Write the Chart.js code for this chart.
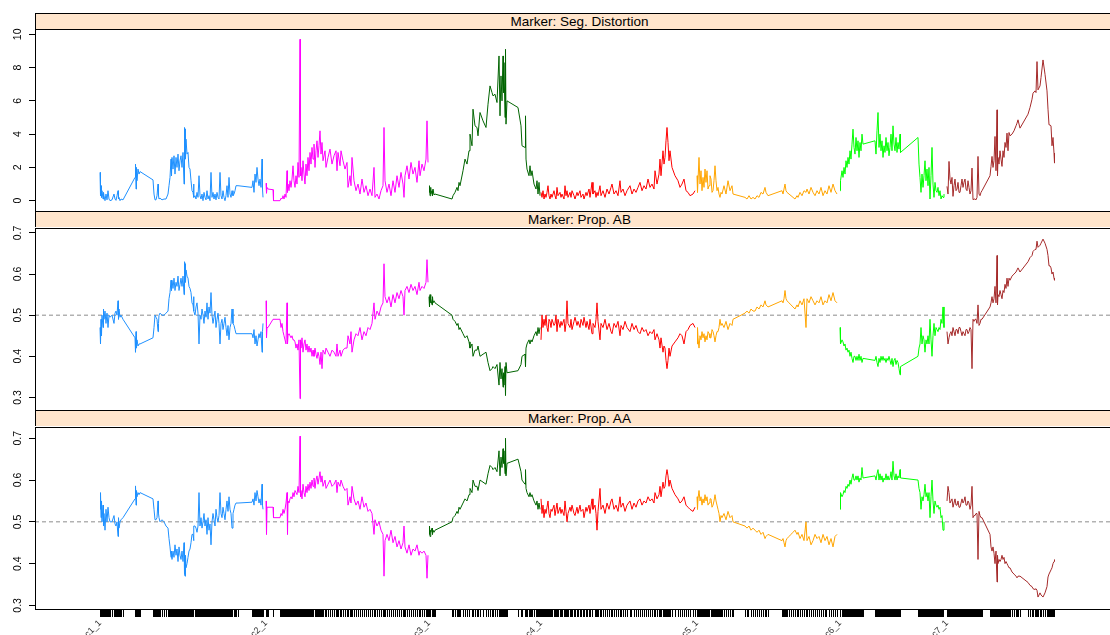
<!DOCTYPE html>
<html>
<head>
<meta charset="utf-8">
<script src="https://cdn.jsdelivr.net/npm/chart.js@4.4.1/dist/chart.umd.min.js"></script>
<style>
  html, body { margin: 0; padding: 0; background: #fff; overflow: hidden; }
  #wrap { position: relative; width: 1110px; height: 635px; overflow: hidden; }
  .strip {
    position: absolute; left: 35px; width: 1087px; height: 15px;
    background: #ffe5cc; border-top: 1px solid #000; border-left: 1px solid #000;
    font: 13.5px "Liberation Sans", Arial, sans-serif; color: #000;
    text-align: center; line-height: 15px; white-space: nowrap;
  }
  canvas { position: absolute; left: 0; }
</style>
</head>
<body>
<div id="wrap">
  <div class="strip" style="top:13px">Marker: Seg. Distortion</div>
  <div class="strip" style="top:211px">Marker: Prop. AB</div>
  <div class="strip" style="top:410px">Marker: Prop. AA</div>
  <canvas id="p1" width="1122" height="203" style="top:19px"></canvas>
  <canvas id="p2" width="1122" height="203" style="top:218px"></canvas>
  <canvas id="p3" width="1122" height="238" style="top:417px"></canvas>
</div>
<script>
// Cumulative map positions of the markers on each linkage group,
// followed by the three per-marker statistics (segregation distortion,
// proportion of AB genotypes, proportion of AA genotypes).

const pos1 = [100,100.5,101,101.5,102,103,103.5,104,105,106,
  107,108,109,110,112,114,115,116,117,118,
  118.5,119,120,121,123,135,135.5,136,136.5,137,
  138,139,140,153,154,155,156,157,158,158.5,
  159,160,162,164,166,168,169,170,171,171.5,
  172,173,174,175,176,177,178,179,180,181,
  182,183,184,184.5,185,185.5,186,187,188,189,
  190,191,192,193,193.5,194,195,196,197,198,
  199,200,201,202,203,204,205,206,207,208,
  209,210,211,212,213,214,215,216,217,218,
  219,220,221,222,223,224,225,226,227,228,
  229,230,231,232,233,234,235,236,238,252,
  253,254,255,256,257,258,259,260,261,262,
  262.5,263];
const seg1 = [1.7,0.3,0.9,0.2,0.6,0.1,0.5,0.3,0.0,0.4,
  0.05,0.6,0.1,0.0,0.05,0.4,0.1,0.02,0.3,0.6,
  0.1,0.2,0.0,0.1,0.05,1.4,2.2,0.7,2.0,1.2,
  1.9,1.6,1.75,1.25,0.4,0.05,0.05,0.3,1.0,0.3,
  0.1,0.15,0.05,0.1,0.1,0.4,0.9,1.4,2.5,1.5,
  2.6,1.9,2.7,1.6,2.6,2.0,2.8,1.8,2.4,2.7,
  2.0,2.9,1.0,4.4,4.3,2.5,3.7,2.8,2.9,2.0,
  1.9,1.2,0.6,0.5,1.0,0.2,0.3,0.1,0.5,0.2,
  1.5,0.3,0.1,0.4,0.0,0.5,0.2,0.05,0.6,0.1,
  0.3,0.0,1.7,0.2,0.5,0.1,0.4,0.05,0.5,0.2,
  0.1,1.7,0.3,0.1,0.6,0.2,0.0,0.3,0.9,0.2,
  1.4,0.4,0.2,0.6,0.3,0.4,0.6,0.9,0.9,0.8,
  1.2,0.5,1.6,1.1,2.0,1.3,0.9,1.3,0.8,2.5,
  0.7,0.2];
const ab1 = [0.47,0.43,0.49,0.45,0.50,0.47,0.515,0.49,0.51,0.48,
  0.505,0.47,0.50,0.495,0.50,0.48,0.505,0.51,0.50,0.535,
  0.49,0.515,0.495,0.50,0.49,0.445,0.41,0.46,0.42,0.44,
  0.425,0.43,0.43,0.445,0.47,0.50,0.495,0.49,0.46,0.48,
  0.50,0.505,0.50,0.50,0.505,0.51,0.54,0.555,0.585,0.56,
  0.585,0.565,0.59,0.56,0.58,0.57,0.595,0.56,0.575,0.59,
  0.57,0.595,0.55,0.63,0.625,0.58,0.61,0.595,0.59,0.57,
  0.565,0.555,0.53,0.525,0.545,0.51,0.50,0.52,0.53,0.505,
  0.43,0.50,0.49,0.515,0.50,0.48,0.51,0.495,0.53,0.49,
  0.52,0.505,0.555,0.50,0.48,0.495,0.51,0.47,0.49,0.505,
  0.48,0.43,0.48,0.49,0.465,0.48,0.495,0.47,0.45,0.475,
  0.44,0.47,0.48,0.515,0.48,0.475,0.465,0.455,0.455,0.455,
  0.445,0.465,0.43,0.45,0.425,0.44,0.455,0.445,0.46,0.41,
  0.46,0.48];
const aa1 = [0.53,0.57,0.51,0.55,0.50,0.54,0.49,0.52,0.48,0.53,
  0.50,0.535,0.51,0.50,0.50,0.515,0.495,0.49,0.50,0.465,
  0.51,0.485,0.50,0.505,0.51,0.555,0.586,0.54,0.575,0.56,
  0.57,0.565,0.57,0.555,0.53,0.505,0.505,0.51,0.55,0.52,
  0.51,0.50,0.505,0.50,0.49,0.485,0.46,0.44,0.415,0.43,
  0.41,0.43,0.415,0.445,0.42,0.435,0.405,0.44,0.42,0.41,
  0.43,0.405,0.45,0.375,0.37,0.42,0.39,0.40,0.415,0.43,
  0.435,0.45,0.47,0.47,0.455,0.49,0.49,0.485,0.475,0.49,
  0.57,0.49,0.51,0.485,0.50,0.52,0.49,0.505,0.47,0.51,
  0.48,0.495,0.445,0.50,0.52,0.505,0.49,0.53,0.51,0.50,
  0.515,0.57,0.52,0.51,0.535,0.52,0.505,0.53,0.55,0.525,
  0.56,0.53,0.52,0.485,0.52,0.53,0.54,0.545,0.545,0.547,
  0.555,0.54,0.57,0.55,0.575,0.56,0.545,0.555,0.54,0.59,
  0.54,0.53];

const pos2 = [266,266.5,267,268,273,273.5,280,281,282,283,
  284,285,286,287,287.5,288,289,290,291,292,
  293,294,295,296,297,298,299,300,300.5,301,
  302,303,304,305,306,307,308,309,310,311,
  312,313,314,315,316,317,318,319,320,321,
  322,323,325,326,328,330,332,334,336,337,
  338,340,341,343,345,347,348,350,351,352,
  354,356,358,360,362,364,366,368,370,372,
  374,375,377,379,381,383,384,385,387,389,
  391,393,395,397,399,401,403,404,405,407,
  409,411,413,415,417,419,420,422,424,426,
  427,428];
const seg2 = [1.05,0.45,0.8,0.7,0.66,0.0,0.0,0.15,0.1,0.3,
  0.1,0.4,0.2,1.8,0.5,1.0,0.6,1.2,0.8,1.3,
  2.1,1.2,0.8,1.5,1.0,2.3,1.4,9.7,1.5,2.0,
  1.2,2.4,1.6,1.0,2.2,1.5,2.6,1.8,2.9,2.2,
  3.2,2.5,3.4,2.0,3.0,3.6,2.6,3.3,4.2,2.8,
  3.5,2.4,3.0,2.0,2.6,3.1,2.2,2.7,3.0,1.8,
  2.9,2.1,3.0,2.4,1.9,2.3,0.8,1.5,0.9,2.6,
  1.2,0.6,1.0,0.4,1.3,0.5,0.9,0.3,0.7,0.3,
  2.0,0.2,0.4,0.1,0.6,0.9,4.4,1.2,0.5,1.0,
  0.3,1.2,0.5,1.5,0.8,1.7,1.0,0.2,1.5,2.1,
  1.3,2.3,1.6,2.0,1.1,2.4,1.5,2.2,1.8,2.5,
  4.8,2.3];
const ab2 = [0.535,0.445,0.47,0.47,0.49,0.49,0.49,0.47,0.48,0.46,
  0.45,0.44,0.43,0.53,0.43,0.45,0.455,0.45,0.445,0.45,
  0.44,0.44,0.435,0.42,0.43,0.415,0.44,0.297,0.44,0.42,
  0.445,0.41,0.43,0.44,0.415,0.43,0.41,0.425,0.41,0.42,
  0.40,0.415,0.40,0.42,0.405,0.395,0.41,0.40,0.38,0.41,
  0.37,0.415,0.405,0.42,0.41,0.40,0.415,0.41,0.40,0.43,
  0.40,0.415,0.40,0.415,0.42,0.42,0.45,0.43,0.46,0.41,
  0.44,0.455,0.45,0.47,0.44,0.46,0.45,0.47,0.465,0.48,
  0.53,0.49,0.51,0.50,0.52,0.53,0.625,0.545,0.53,0.545,
  0.52,0.55,0.53,0.555,0.54,0.56,0.545,0.50,0.56,0.57,
  0.555,0.575,0.56,0.57,0.55,0.58,0.56,0.57,0.565,0.58,
  0.635,0.58];
const aa2 = [0.55,0.47,0.535,0.535,0.535,0.51,0.51,0.52,0.515,0.53,
  0.52,0.53,0.545,0.57,0.47,0.55,0.545,0.555,0.56,0.555,
  0.57,0.56,0.575,0.57,0.565,0.585,0.57,0.705,0.56,0.575,
  0.555,0.59,0.57,0.56,0.585,0.57,0.59,0.575,0.595,0.58,
  0.60,0.585,0.605,0.58,0.60,0.61,0.59,0.605,0.62,0.595,
  0.61,0.585,0.60,0.58,0.59,0.60,0.585,0.59,0.60,0.57,
  0.595,0.585,0.60,0.585,0.575,0.58,0.54,0.56,0.545,0.585,
  0.555,0.54,0.55,0.53,0.56,0.535,0.545,0.525,0.53,0.52,
  0.47,0.505,0.49,0.50,0.48,0.47,0.37,0.455,0.47,0.455,
  0.48,0.45,0.465,0.44,0.455,0.435,0.45,0.49,0.44,0.425,
  0.445,0.42,0.435,0.43,0.445,0.42,0.43,0.425,0.43,0.42,
  0.365,0.42];

const pos3 = [429,429.5,430,430.5,431,432,432.5,433,434,435,
  452,453,455,457,458,459,460,463,465,467,
  469,470,472,473,475,477,478,480,483,486,
  488,490,492,493,495,497,499,500,501,502,
  503,503.5,504,505,505.5,506,507,518,521,522,
  525,525.5,526,527,529,530,531,532,534,536,
  537,538,539,540];
const seg3 = [0.5,0.9,0.3,0.8,0.4,0.6,0.3,0.7,0.35,0.4,
  0.1,0.3,0.5,0.8,0.6,1.1,0.9,1.8,2.5,2.2,
  3.0,4.0,3.3,5.5,4.5,4.4,3.9,5.3,4.8,4.4,
  5.8,6.9,6.5,6.3,6.4,5.9,8.7,5.1,7.5,6.0,
  8.7,6.5,8.3,5.0,9.1,4.6,6.0,5.6,4.5,3.3,
  3.2,5.1,2.5,1.9,1.5,2.1,1.5,1.8,1.0,0.7,
  1.2,0.4,1.1,0.3];
const ab3 = [0.545,0.52,0.55,0.53,0.54,0.525,0.545,0.53,0.535,0.53,
  0.50,0.49,0.485,0.475,0.48,0.465,0.47,0.455,0.445,0.45,
  0.435,0.42,0.43,0.40,0.415,0.415,0.425,0.40,0.405,0.41,
  0.385,0.365,0.37,0.375,0.37,0.38,0.33,0.385,0.345,0.37,
  0.325,0.36,0.33,0.375,0.305,0.385,0.36,0.365,0.38,0.40,
  0.405,0.375,0.42,0.43,0.44,0.43,0.44,0.435,0.45,0.46,
  0.45,0.47,0.455,0.47];
const aa3 = [0.47,0.49,0.465,0.48,0.475,0.485,0.47,0.48,0.475,0.48,
  0.50,0.51,0.515,0.525,0.52,0.535,0.53,0.545,0.555,0.55,
  0.565,0.58,0.57,0.60,0.585,0.585,0.575,0.60,0.595,0.59,
  0.615,0.635,0.63,0.625,0.63,0.62,0.67,0.61,0.655,0.63,
  0.675,0.64,0.67,0.615,0.70,0.61,0.64,0.65,0.62,0.60,
  0.59,0.625,0.58,0.57,0.56,0.57,0.56,0.565,0.55,0.54,
  0.55,0.53,0.545,0.53];

const pos4 = [541,542,543,544,545,546,547,548,549,550,
  551,552,554,555,556,557,558,560,561,562,
  564,565,566,567,568,570,571,572,574,575,
  577,578,580,581,583,584,586,587,589,590,
  592,593,595,596,597,598,600,601,603,605,
  607,609,611,612,614,616,618,620,621,623,
  625,627,630,632,634,636,638,640,642,644,
  646,648,650,652,654,655,657,659,660,661,
  663,664,665,666,667,668,669,670,672,675,
  678,680,682,684,686,688,690,693,695];
const seg4 = [0.5,0.2,0.6,0.1,0.4,0.2,0.5,0.9,0.3,0.1,
  0.4,0.2,0.6,0.3,0.1,0.8,0.3,0.5,0.2,0.4,
  0.1,0.9,0.3,0.6,0.2,0.5,0.2,0.6,0.3,0.1,
  0.5,0.3,0.6,0.2,0.4,0.1,0.5,0.3,0.7,0.2,
  1.1,0.4,0.6,0.2,0.5,0.3,0.9,0.3,0.6,0.2,
  0.7,0.4,0.8,1.0,0.4,0.6,0.3,1.2,0.5,0.7,
  0.3,0.6,0.9,0.4,0.7,0.5,0.8,1.1,0.6,0.9,
  0.7,1.3,0.8,1.0,0.7,1.8,1.0,1.6,2.5,1.5,
  3.0,2.2,2.6,3.6,4.4,3.5,2.4,3.0,2.0,1.5,
  1.2,0.8,1.0,1.3,0.6,0.5,0.3,0.4,0.6];
const ab4 = [0.44,0.50,0.47,0.49,0.475,0.50,0.47,0.46,0.49,0.485,
  0.47,0.49,0.475,0.48,0.50,0.46,0.49,0.47,0.485,0.475,
  0.49,0.46,0.48,0.535,0.48,0.47,0.49,0.465,0.485,0.495,
  0.475,0.485,0.47,0.49,0.475,0.495,0.47,0.485,0.465,0.49,
  0.455,0.48,0.47,0.49,0.53,0.485,0.44,0.48,0.47,0.49,
  0.465,0.48,0.46,0.455,0.48,0.47,0.485,0.45,0.475,0.465,
  0.485,0.47,0.46,0.48,0.465,0.475,0.46,0.455,0.47,0.46,
  0.465,0.45,0.46,0.455,0.465,0.44,0.455,0.44,0.42,0.445,
  0.41,0.425,0.42,0.39,0.37,0.39,0.42,0.40,0.425,0.435,
  0.445,0.455,0.45,0.43,0.46,0.465,0.475,0.48,0.47];
const aa4 = [0.555,0.52,0.54,0.51,0.53,0.52,0.535,0.55,0.52,0.51,
  0.53,0.525,0.54,0.515,0.53,0.545,0.52,0.535,0.52,0.53,
  0.515,0.55,0.525,0.50,0.52,0.535,0.525,0.54,0.52,0.515,
  0.535,0.52,0.54,0.525,0.53,0.51,0.535,0.525,0.54,0.52,
  0.555,0.53,0.54,0.52,0.48,0.525,0.58,0.53,0.54,0.52,
  0.545,0.53,0.55,0.555,0.53,0.54,0.525,0.56,0.535,0.545,
  0.525,0.54,0.55,0.53,0.545,0.535,0.55,0.555,0.54,0.55,
  0.545,0.56,0.55,0.555,0.545,0.57,0.555,0.565,0.585,0.56,
  0.595,0.58,0.585,0.61,0.625,0.61,0.585,0.60,0.58,0.565,
  0.555,0.545,0.55,0.56,0.54,0.535,0.53,0.525,0.535];

const pos5 = [697,697.5,698,699,700,701,702,703,704,705,
  706,707,708,709,710,711,712,713,714,715,
  716,717,718,719,720,721,722,724,726,728,
  730,732,733,745,747,749,751,753,755,757,
  759,761,763,765,766,768,782,783,784,785,
  786,787,789,791,793,795,797,798,800,802,
  804,806,807,809,811,813,815,817,819,821,
  823,825,827,829,831,833,835,837];
const seg5 = [1.5,0.5,1.2,2.6,1.0,1.8,0.6,1.4,0.8,1.9,
  1.1,1.8,0.7,0.9,1.5,1.3,0.5,0.6,1.2,2.1,
  1.2,0.6,0.8,0.4,0.2,0.5,0.4,0.9,0.4,1.2,
  0.6,0.9,0.4,0.2,0.1,0.3,0.1,0.2,0.1,0.3,
  0.2,0.5,0.4,0.8,0.5,0.3,0.6,0.4,0.7,1.0,
  0.6,0.5,0.4,0.3,0.2,0.1,0.3,0.2,0.5,0.3,
  0.6,0.5,0.7,0.4,0.8,0.5,0.3,0.6,0.4,0.8,
  0.3,0.6,0.4,0.9,0.5,1.0,0.6,0.4];
const ab5 = [0.43,0.47,0.445,0.42,0.45,0.44,0.46,0.445,0.455,0.435,
  0.45,0.44,0.46,0.455,0.445,0.445,0.465,0.46,0.45,0.435,
  0.45,0.46,0.46,0.47,0.49,0.475,0.48,0.47,0.485,0.465,
  0.48,0.475,0.49,0.505,0.51,0.505,0.515,0.51,0.51,0.52,
  0.515,0.525,0.52,0.535,0.525,0.52,0.535,0.53,0.54,0.56,
  0.54,0.535,0.53,0.525,0.52,0.515,0.525,0.52,0.535,0.525,
  0.54,0.47,0.54,0.53,0.545,0.535,0.525,0.535,0.53,0.545,
  0.525,0.535,0.53,0.55,0.535,0.555,0.535,0.53];
const aa5 = [0.56,0.53,0.555,0.575,0.55,0.56,0.54,0.555,0.545,0.565,
  0.55,0.56,0.54,0.545,0.555,0.555,0.535,0.54,0.55,0.565,
  0.55,0.54,0.53,0.52,0.50,0.515,0.51,0.52,0.505,0.525,
  0.51,0.515,0.50,0.49,0.485,0.49,0.48,0.485,0.48,0.475,
  0.48,0.47,0.475,0.46,0.465,0.47,0.455,0.46,0.45,0.44,
  0.455,0.46,0.465,0.47,0.475,0.48,0.47,0.475,0.46,0.47,
  0.455,0.50,0.455,0.465,0.445,0.455,0.47,0.46,0.465,0.45,
  0.47,0.455,0.465,0.445,0.46,0.44,0.465,0.47];

const pos6 = [840,840.5,842,843,844,845,846,847,848,849,
  850,851,852,853,854,855,856,857,858,859,
  860,861,862,863,875,876,877,878,879,880,
  881,882,883,884,885,886,887,888,889,890,
  891,892,893,894,895,896,897,898,899,900,
  900.5,918,919,920,921,922,923,924,925,926,
  927,928,929,930,931,932,933,934,935,936,
  937,938,939,940,941,942,943,944];
const seg6 = [0.6,1.2,1.8,1.4,2.0,1.6,2.4,2.0,2.6,2.2,
  3.0,2.5,3.4,4.3,3.2,2.8,3.8,3.0,3.6,2.6,
  3.5,3.0,4.0,3.4,3.6,2.8,4.2,5.3,3.2,4.0,
  3.0,3.6,2.6,3.3,2.9,3.8,3.0,3.5,2.7,3.2,
  4.0,3.0,4.5,3.4,3.0,3.8,2.9,3.5,3.1,4.0,
  2.9,3.8,2.2,1.4,0.5,1.6,0.8,1.5,2.4,1.2,
  1.9,0.9,2.0,0.1,1.5,3.2,1.0,0.2,1.1,0.6,
  0.5,0.8,0.3,0.6,0.1,0.3,0.2,0.4];
const ab6 = [0.47,0.43,0.44,0.435,0.425,0.43,0.415,0.42,0.41,0.415,
  0.40,0.41,0.395,0.385,0.40,0.40,0.39,0.40,0.39,0.405,
  0.39,0.40,0.385,0.395,0.39,0.40,0.385,0.375,0.395,0.385,
  0.40,0.39,0.40,0.39,0.395,0.385,0.395,0.39,0.40,0.39,
  0.38,0.395,0.375,0.39,0.395,0.38,0.39,0.385,0.37,0.355,
  0.375,0.40,0.42,0.43,0.47,0.43,0.45,0.44,0.41,0.44,
  0.43,0.45,0.43,0.49,0.44,0.40,0.45,0.48,0.45,0.47,
  0.465,0.46,0.47,0.465,0.49,0.48,0.52,0.47];
const aa6 = [0.53,0.57,0.56,0.565,0.575,0.57,0.585,0.58,0.59,0.585,
  0.60,0.59,0.605,0.615,0.60,0.60,0.61,0.60,0.61,0.595,
  0.605,0.60,0.63,0.605,0.61,0.60,0.615,0.625,0.60,0.615,
  0.60,0.61,0.595,0.605,0.60,0.615,0.60,0.61,0.60,0.605,
  0.62,0.60,0.645,0.61,0.60,0.615,0.60,0.61,0.605,0.625,
  0.605,0.60,0.58,0.57,0.53,0.56,0.55,0.565,0.59,0.56,
  0.57,0.55,0.57,0.51,0.56,0.60,0.55,0.52,0.55,0.54,
  0.535,0.54,0.53,0.535,0.51,0.515,0.48,0.50];

const pos7 = [947,948,949,950,951,952,953,954,955,956,
  957,958,959,960,961,962,963,964,965,966,
  967,968,969,970,971,972,973,974,975,976,
  977,978,979,980,981,982,990,991,992,993,
  994,995,996,997,997.5,998,999,1000,1001,1002,
  1003,1004,1005,1006,1007,1008,1009,1010,1012,1014,
  1016,1017,1018,1020,1028,1030,1032,1033,1035,1036,
  1037,1038,1040,1041,1043,1045,1047,1048,1049,1050,
  1051,1052,1053,1054,1054.5];
const seg7 = [0.86,0.4,2.36,1.3,1.0,1.4,0.26,0.9,1.3,0.6,
  0.7,1.1,0.5,0.5,0.9,1.3,0.8,1.1,1.3,0.7,
  0.6,1.2,0.8,0.4,0.6,1.96,0.06,0.1,0.1,0.05,
  0.2,2.66,0.4,0.3,0.5,0.6,1.5,2.06,2.66,2.0,
  2.4,3.86,1.8,5.46,1.5,2.6,2.2,3.0,2.5,2.06,
  3.0,2.6,3.5,3.2,4.06,3.0,4.1,3.9,4.0,4.2,
  4.5,4.66,4.86,4.36,5.2,5.6,6.1,6.46,6.6,6.5,
  8.36,6.66,6.9,7.4,8.46,7.6,6.6,5.5,4.56,4.55,
  4.5,3.3,3.8,2.86,2.26];
const ab7 = [0.46,0.43,0.445,0.455,0.46,0.45,0.47,0.46,0.45,0.465,
  0.465,0.455,0.47,0.47,0.46,0.45,0.46,0.455,0.45,0.465,
  0.465,0.455,0.46,0.47,0.465,0.37,0.49,0.485,0.49,0.49,
  0.48,0.525,0.475,0.48,0.49,0.49,0.52,0.53,0.545,0.53,
  0.54,0.57,0.53,0.645,0.525,0.55,0.545,0.56,0.55,0.54,
  0.56,0.555,0.575,0.565,0.59,0.57,0.59,0.585,0.595,0.60,
  0.605,0.61,0.615,0.605,0.63,0.64,0.645,0.655,0.66,0.66,
  0.68,0.665,0.67,0.675,0.685,0.675,0.66,0.645,0.62,0.62,
  0.615,0.60,0.605,0.59,0.585];
const aa7 = [0.55,0.585,0.57,0.545,0.55,0.555,0.535,0.545,0.555,0.54,
  0.54,0.55,0.535,0.535,0.545,0.555,0.545,0.55,0.56,0.54,
  0.54,0.55,0.545,0.53,0.54,0.585,0.51,0.515,0.515,0.52,
  0.52,0.41,0.525,0.515,0.51,0.51,0.47,0.44,0.43,0.44,
  0.425,0.40,0.43,0.356,0.42,0.40,0.41,0.405,0.41,0.42,
  0.41,0.415,0.40,0.405,0.40,0.395,0.39,0.39,0.38,0.375,
  0.37,0.366,0.37,0.37,0.355,0.348,0.345,0.34,0.338,0.34,
  0.336,0.32,0.33,0.325,0.32,0.33,0.345,0.368,0.375,0.38,
  0.385,0.39,0.40,0.405,0.41];

// Linkage-group colours and the marker that names each group on the axis
const groupColors = ['#1e90ff', '#ff00ff', '#006400', '#ff0000', '#ffa500', '#00ff00', '#a52a2a'];
const groupLabels = ['c1_1', 'c2_1', 'c3_1', 'c4_1', 'c5_1', 'c6_1', 'c7_1'];

// Y-axis tick values and their printed labels
const ticksSeg = [0, 2, 4, 6, 8, 10];
const tickLabelsSeg = ['0', '2', '4', '6', '8', '10'];
const ticksProp = [0.3, 0.4, 0.5, 0.6, 0.7];
const tickLabelsProp = ['0.3', '0.4', '0.5', '0.6', '0.7'];
const refLine = 0.5;

const positions = [pos1, pos2, pos3, pos4, pos5, pos6, pos7];
const segValues = [seg1, seg2, seg3, seg4, seg5, seg6, seg7];
const abValues = [ab1, ab2, ab3, ab4, ab5, ab6, ab7];
const aaValues = [aa1, aa2, aa3, aa4, aa5, aa6, aa7];

// all marker positions, drawn as the rug on the bottom axis
const rug = [].concat(...positions).sort((a, b) => a - b);
const startLabel = {};
positions.forEach((p, i) => { startLabel[p[0]] = groupLabels[i]; });

const X_MIN = 35, X_MAX = 1122;
const FONT = '"Liberation Sans", Arial, Helvetica, sans-serif';

const framePlugin = {
  id: 'panelFrame',
  afterDraw(chart) {
    const a = chart.chartArea, ctx = chart.ctx;
    ctx.save();
    ctx.strokeStyle = '#000';
    ctx.lineWidth = 1;
    ctx.strokeRect(a.left + 0.5, a.top + 0.5, a.right - a.left - 1, a.bottom - a.top - 1);
    ctx.restore();
  }
};

const yLabelPlugin = {
  id: 'yTickText',
  afterDraw(chart, args, opts) {
    const s = chart.scales.y, ctx = chart.ctx;
    ctx.save();
    ctx.font = '10.5px ' + FONT;
    ctx.fillStyle = '#000';
    ctx.textAlign = 'center';
    ctx.textBaseline = 'middle';
    opts.values.forEach((v, i) => {
      const y = s.getPixelForValue(v);
      ctx.save();
      ctx.translate(18, y);
      ctx.rotate(-Math.PI / 2);
      ctx.fillText(opts.labels[i], 0, 0);
      ctx.restore();
    });
    ctx.restore();
  }
};

function makePanel(canvasId, values, yMin, yMax, tickVals, tickText, withRef, bottom) {
  const datasets = positions.map((p, g) => ({
    data: p.map((x, i) => ({ x: x, y: values[g][i] })),
    borderColor: groupColors[g],
    borderWidth: 1,
    pointRadius: 0,
    tension: 0,
    fill: false,
    order: 1
  }));
  if (withRef) {
    datasets.push({
      data: [{ x: X_MIN, y: refLine }, { x: X_MAX, y: refLine }],
      borderColor: '#8c8c8c',
      borderWidth: 1,
      borderDash: [4, 3],
      pointRadius: 0,
      order: 10
    });
  }
  const xScale = {
    type: 'linear', min: X_MIN, max: X_MAX, display: bottom
  };
  if (bottom) {
    Object.assign(xScale, {
      afterBuildTicks(s) { s.ticks = rug.map(v => ({ value: v })); },
      afterFit(s) { s.height = 45; },
      ticks: {
        autoSkip: false, minRotation: 45, maxRotation: 45, padding: 1,
        color: '#333', font: { size: 9, family: FONT },
        callback: (v) => startLabel[v] || ''
      },
      grid: { drawOnChartArea: false, drawTicks: true, tickLength: 7, color: '#000', lineWidth: 1 },
      border: { display: false }
    });
  }
  return new Chart(document.getElementById(canvasId), {
    type: 'line',
    data: { datasets },
    options: {
      responsive: false,
      animation: false,
      events: [],
      layout: { padding: { top: 10, bottom: bottom ? 0 : 10, left: 0, right: 0 } },
      plugins: {
        legend: { display: false },
        tooltip: { enabled: false },
        yTickText: { values: tickVals, labels: tickText }
      },
      scales: {
        x: xScale,
        y: {
          type: 'linear', min: yMin, max: yMax,
          afterFit(s) { s.width = 35; },
          afterBuildTicks(s) { s.ticks = tickVals.map(v => ({ value: v })); },
          ticks: { display: false },
          grid: { drawOnChartArea: false, drawTicks: true, tickLength: 6, color: '#000', lineWidth: 1 },
          border: { display: false }
        }
      }
    },
    plugins: [framePlugin, yLabelPlugin]
  });
}

makePanel('p1', segValues, -0.68, 10.32, ticksSeg, tickLabelsSeg, false, false);
makePanel('p2', abValues, 0.267, 0.712, ticksProp, tickLabelsProp, true, false);
makePanel('p3', aaValues, 0.289, 0.727, ticksProp, tickLabelsProp, true, true);
</script>
</body>
</html>
